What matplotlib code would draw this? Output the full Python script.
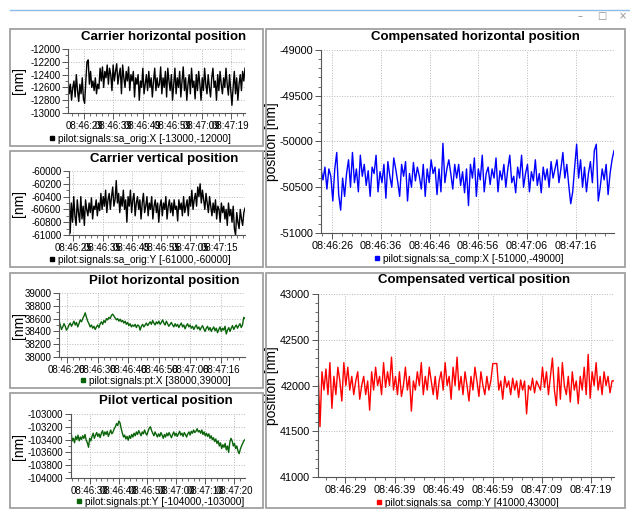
import numpy as np
import matplotlib
matplotlib.use('Agg')
import matplotlib.pyplot as plt
from matplotlib.ticker import MultipleLocator, FuncFormatter
from matplotlib.lines import Line2D
from matplotlib.patches import Rectangle

plt.rcParams['font.family'] = ['Liberation Sans', 'DejaVu Sans']
plt.rcParams['axes.unicode_minus'] = False

# samples (nm), time in s after 08:46:00
carrier_x = [
    -12450, -12700, -12550, -12800, -12600, -12500, -12750, -12400, -12650, -12820,
    -12550, -12700, -12450, -12780, -12850, -12500, -12200, -12170, -12550, -12350,
    -12600, -12500, -12650, -12450, -12700, -12550, -12620, -12300, -12500, -12280,
    -12600, -12350, -12450, -12250, -12550, -12300, -12400, -12650, -12250, -12500,
    -12350, -12230, -12550, -12400, -12300, -12700, -12250, -12450, -12600, -12350,
    -12500, -12280, -12650, -12400, -12500, -12350, -12750, -12450, -12550, -12400,
    -12800, -12500, -12600, -12300, -12700, -12550, -12400, -12650, -12350, -12600,
    -12450, -12750, -12500, -12300, -12650, -12450, -12600, -12550, -12280, -12700,
    -12450, -12600, -12350, -12750, -12300, -12500, -12650, -12400, -12800, -12550,
    -12300, -12700, -12450, -12600, -12350, -12750, -12500, -12280, -12650, -12450,
    -12800, -12550, -12400, -12700, -12300, -12600, -12500, -12780, -12400, -12650,
    -12350, -12550, -12800, -12450, -12650, -12300, -12550, -12700, -12400, -12600,
    -12750, -12450, -12300, -12600, -12500, -12800, -12400, -12650, -12350, -12550,
    -12700, -12450, -12600, -12300, -12550, -12720, -12400, -12650, -12880, -12600,
    -12350, -12700, -12450, -12800, -12550, -12400, -12650, -12350, -12500, -12300]

carrier_y = [
    -60300, -60970, -60500, -60800, -60400, -60700, -60850, -60450, -60650, -60800,
    -60400, -60750, -60550, -60850, -60450, -60600, -60700, -60500, -60650, -60420,
    -60750, -60550, -60600, -60450, -60700, -60500, -60620, -60350, -60600, -60400,
    -60550, -60300, -60650, -60450, -60350, -60600, -60400, -60250, -60550, -60450,
    -60150, -60500, -60350, -60650, -60400, -60550, -60300, -60600, -60450, -60800,
    -60400, -60550, -60300, -60650, -60450, -60350, -60700, -60500, -60400, -60600,
    -60450, -60750, -60500, -60350, -60650, -60550, -60400, -60700, -60500, -60600,
    -60400, -60750, -60550, -60450, -60650, -60500, -60800, -60550, -60450, -60700,
    -60500, -60600, -60400, -60750, -60550, -60450, -60650, -60500, -60700, -60450,
    -60600, -60550, -60780, -60450, -60600, -60500, -60700, -60400, -60650, -60550,
    -60450, -60700, -60400, -60550, -60300, -60600, -60450, -60350, -60550, -60250,
    -60400, -60200, -60500, -60300, -60450, -60600, -60350, -60500, -60650, -60400,
    -60550, -60700, -60500, -60650, -60450, -60750, -60550, -60600, -60800, -60500,
    -60650, -60550, -60750, -60600, -60850, -60500, -60700, -60600, -60800, -60550,
    -60900, -61000, -60650, -60800, -60900, -60600, -60750, -60850, -60650, -60580]

pilot_x = [
    38570, 38500, 38430, 38470, 38520, 38480, 38420, 38450, 38500, 38530,
    38480, 38520, 38560, 38500, 38540, 38470, 38520, 38580, 38550, 38600,
    38640, 38690, 38620, 38560, 38520, 38470, 38500, 38450, 38480, 38430,
    38470, 38500, 38460, 38520, 38550, 38510, 38570, 38540, 38600, 38580,
    38620, 38600, 38650, 38670, 38640, 38610, 38580, 38600, 38560, 38590,
    38550, 38570, 38530, 38560, 38510, 38540, 38490, 38520, 38470, 38500,
    38480, 38510, 38460, 38500, 38490, 38420, 38480, 38510, 38470, 38500,
    38530, 38490, 38520, 38550, 38510, 38570, 38530, 38500, 38550, 38520,
    38560, 38510, 38540, 38580, 38530, 38500, 38560, 38520, 38480, 38510,
    38540, 38500, 38470, 38520, 38480, 38510, 38460, 38500, 38530, 38470,
    38500, 38440, 38490, 38520, 38470, 38500, 38450, 38480, 38430, 38470,
    38500, 38440, 38470, 38420, 38460, 38490, 38440, 38400, 38450, 38480,
    38420, 38460, 38400, 38440, 38470, 38410, 38450, 38380, 38430, 38470,
    38400, 38450, 38420, 38480, 38360, 38420, 38460, 38400, 38450, 38490,
    38430, 38470, 38500, 38450, 38490, 38520, 38460, 38500, 38620, 38600]

pilot_y = [
    -103270, -103420, -103380, -103450, -103350, -103400, -103330, -103420, -103360, -103400,
    -103340, -103380, -103320, -103410, -103450, -103520, -103380, -103420, -103350, -103300,
    -103380, -103330, -103290, -103350, -103310, -103370, -103300, -103260, -103340, -103280,
    -103320, -103270, -103350, -103300, -103250, -103310, -103280, -103230, -103200, -103150,
    -103180, -103110, -103140, -103230, -103300, -103360, -103330, -103390, -103350, -103410,
    -103340, -103380, -103320, -103360, -103300, -103340, -103280, -103320, -103260, -103300,
    -103340, -103280, -103310, -103250, -103300, -103330, -103270, -103220, -103200, -103260,
    -103300, -103340, -103280, -103320, -103360, -103310, -103350, -103290, -103330, -103380,
    -103320, -103360, -103300, -103340, -103290, -103330, -103370, -103320, -103280, -103340,
    -103300, -103350, -103310, -103270, -103330, -103300, -103350, -103290, -103320, -103360,
    -103310, -103280, -103330, -103270, -103300, -103250, -103290, -103270, -103230, -103280,
    -103260, -103300, -103250, -103320, -103280, -103340, -103300, -103350, -103310, -103380,
    -103340, -103400, -103370, -103430, -103390, -103460, -103420, -103500, -103450, -103540,
    -103480, -103520, -103460, -103560, -103500, -103600, -103440, -103380, -103420, -103500,
    -103460, -103540, -103500, -103580, -103620, -103550, -103500, -103460, -103420, -103400]

comp_x = [
    -50300, -50420, -50280, -50520, -50300, -50380, -50650, -50300, -50120, -50580,
    -50750, -50400, -50600, -50350, -50200, -50500, -50120, -50450, -50300, -50550,
    -50150, -50380, -50250, -50480, -50320, -50600, -50280, -50350, -50150, -50550,
    -50330, -50450, -50250, -50620, -50220, -50380, -50500, -50180, -50300, -50440,
    -50600, -50250, -50380, -50220, -50650, -50350, -50500, -50230, -50430, -50280,
    -50380, -50520, -50250, -50600, -50300, -50450, -50200, -50350, -50280, -50580,
    -50300, -50550, -50020, -50450, -50300, -50200, -50350, -50520, -50250, -50400,
    -50250, -50480, -50330, -50560, -50300, -50700, -50250, -50400, -50180, -50600,
    -50300, -50420, -50150, -50550, -50350, -50280, -50470, -50300, -50400, -50180,
    -50550, -50320, -50420, -50250, -50500, -50300, -50150, -50450, -50380, -50560,
    -50280, -50400, -50150, -50500, -50350, -50250, -50550, -50330, -50430, -50200,
    -50480, -50350, -50560, -50280, -50420, -50300, -50500, -50220, -50400, -50300,
    -50200, -50450, -50300, -50120, -50400, -50250, -50480, -50680, -50550, -50280,
    -50030, -50400, -50200, -50500, -50280, -50550, -50350, -50220, -50450, -50100,
    -50030, -50650, -50500, -50300, -50420, -50250, -50580, -50350, -50200, -50100]

comp_y = [
    42200, 41550, 42150, 41950, 42180, 41900, 42250, 41750, 42100, 41900,
    42200, 42050, 41830, 42250, 42000, 42200, 41950, 42100, 41900, 42050,
    42150, 41850, 42000, 42100, 41900, 42050, 41730, 42150, 41950, 42200,
    42000, 42100, 41900, 42250, 41980, 42150, 42000, 42310, 41950, 42100,
    41900, 42150, 41880, 42000, 42200, 41950, 42100, 41720, 42050, 41950,
    42150, 42000, 42250, 41900, 42100, 41950, 42200, 42050, 41900, 42100,
    41850, 42050, 42150, 41950, 42250, 42000, 42100, 41850, 42200, 42000,
    42310, 41950, 42100, 41900, 42150, 42000, 41830, 42100, 41950, 42200,
    42050, 41880, 42150, 42000, 41900, 42100, 41950, 42050, 42240, 42240,
    42240, 41950, 42050, 41850, 42100, 41980, 42050, 41900, 42080, 41950,
    42050, 41870, 42060, 41950, 42050, 41690, 42000, 41950, 42080, 41920,
    42050, 42000, 41950, 42200, 41980, 42150, 41900, 42100, 42300, 41950,
    41780, 42200, 41850, 42250, 42000, 41900, 42100, 41820, 42150, 41950,
    42050, 41800, 42100, 41950, 42200, 41900, 42340, 41860, 42150, 42000,
    42250, 41950, 42100, 41900, 42150, 42000, 42100, 41920, 42050, 42050]

W, H = 630, 511
fig = plt.figure(figsize=(W / 100, H / 100), dpi=100)
fig.patch.set_facecolor('white')


def fx(x):
    return x / W


def fy(y):
    return 1 - y / H


def hms(s, pos=None):
    s = int(round(s))
    return f'08:{46 + s // 60:02d}:{s % 60:02d}'


# window chrome
fig.add_artist(Line2D([fx(10), 1], [fy(10), fy(10)], color='#8cbce6', lw=1))
for x, ch in [(580, '\u2013'), (602, '\u25a1'), (623, '\u00d7')]:
    fig.text(fx(x), fy(16), ch, ha='center', va='center', fontsize=7, color='#909090',
             family=['DejaVu Sans'])

panels = [
    dict(frame=(10, 29, 263, 146), ax=(68, 49, 245, 113), ty=37, gy=139, gx=140,
         data=carrier_x, color='black', ylim=(-13000, -12000), ystep=200, ymin=100,
         toff=9, t=(23.5, 83.8), title='Carrier horizontal position', fs=7,
         legend='pilot:signals:sa_orig:X [-13000,-12000]', ylabel='[nm]', tx=164, yx=26),
    dict(frame=(10, 151, 263, 267), ax=(69, 171, 245, 235), ty=159, gy=260, gx=140,
         data=carrier_y, color='black', ylim=(-61000, -60000), ystep=200, ymin=100,
         toff=5, t=(23.5, 83.8), title='Carrier vertical position', fs=7,
         legend='pilot:signals:sa_orig:Y [-61000,-60000]', ylabel='[nm]', tx=164, yx=26),
    dict(frame=(10, 273, 263, 388), ax=(59, 293, 245, 357), ty=281, gy=381, gx=155,
         data=pilot_x, color='#0a640a', ylim=(38000, 39000), ystep=200, ymin=100,
         toff=6, t=(23.5, 83.8), title='Pilot horizontal position', fs=7,
         legend='pilot:signals:pt:X [38000,39000]', ylabel='[nm]', tx=164, yx=26),
    dict(frame=(10, 393, 263, 508), ax=(71, 414, 245, 478), ty=401, gy=502, gx=160,
         data=pilot_y, color='#0a640a', ylim=(-104000, -103000), ystep=200, ymin=100,
         toff=0, t=(23.5, 83.8), title='Pilot vertical position', fs=7,
         legend='pilot:signals:pt:Y [-104000,-103000]', ylabel='[nm]', tx=166, yx=26),
    dict(frame=(266, 29, 625, 267), ax=(321, 50, 614, 233), ty=37, gy=259, gx=469,
         data=comp_x, color='#0000ff', ylim=(-51000, -49000), ystep=500, ymin=100,
         toff=6, t=(23.7, 83.9), title='Compensated horizontal position', fs=7.8,
         legend='pilot:signals:sa_comp:X [-51000,-49000]', ylabel='position [nm]', tx=475, yx=279),
    dict(frame=(266, 273, 625, 508), ax=(318, 294, 614, 477), ty=280, gy=503, gx=467,
         data=comp_y, color='#ff0000', ylim=(41000, 43000), ystep=500, ymin=100,
         toff=9, t=(23.4, 83.7), title='Compensated vertical position', fs=7.8,
         legend='pilot:signals:sa_comp:Y [41000,43000]', ylabel='position [nm]', tx=474, yx=279),
]

for p in panels:
    x0, y0, x1, y1 = p['frame']
    fig.add_artist(Rectangle((fx(x0), fy(y1)), fx(x1 - x0), (y1 - y0) / H,
                             fill=False, edgecolor='#a0a0a0', lw=1.3))
    a0, b0, a1, b1 = p['ax']
    ax = fig.add_axes([fx(a0), fy(b1), fx(a1 - a0), (b1 - b0) / H])
    vals = np.array(p['data'])
    t = np.linspace(p['t'][0], p['t'][1], len(vals))
    ax.plot(t, vals, color=p['color'], lw=1.0)
    ax.set_xlim(t[0], t[-1])
    ax.set_ylim(*p['ylim'])
    ax.xaxis.set_major_locator(MultipleLocator(10, p['toff']))
    ax.xaxis.set_minor_locator(MultipleLocator(2, p['toff'] % 2))
    ax.xaxis.set_major_formatter(FuncFormatter(hms))
    ax.yaxis.set_major_locator(MultipleLocator(p['ystep']))
    ax.yaxis.set_minor_locator(MultipleLocator(p['ymin']))
    ax.yaxis.set_major_formatter(FuncFormatter(lambda v, pos: f'{int(round(v))}'))
    ax.grid(True, which='major', ls=':', color='#b8b8b8', lw=0.7)
    for s in ['top', 'right']:
        ax.spines[s].set_visible(False)
    for s in ['left', 'bottom']:
        ax.spines[s].set_color('#555555')
        ax.spines[s].set_linewidth(0.8)
    ax.tick_params(which='major', length=4, width=0.7, color='#555555',
                   labelsize=p['fs'], pad=1.5)
    ax.tick_params(which='minor', length=2, width=0.6, color='#555555')
    ax.set_ylabel(p['ylabel'], fontsize=10)
    ax.yaxis.set_label_coords(fx(p['yx']), fy((b0 + b1) / 2), transform=fig.transFigure)
    fig.text(fx(p['tx']), fy(p['ty']), p['title'], ha='center', va='center',
             fontsize=9.5, fontweight='bold')
    h = Line2D([], [], marker='s', ls='', color=p['color'], markersize=3)
    ax.legend([h], [p['legend']], loc='center', frameon=False, fontsize=7.3,
              bbox_to_anchor=(fx(p['gx']), fy(p['gy'])), bbox_transform=fig.transFigure,
              handlelength=0.6, handletextpad=0.3, borderpad=0, borderaxespad=0)

fig.savefig('out.png', dpi=100)
